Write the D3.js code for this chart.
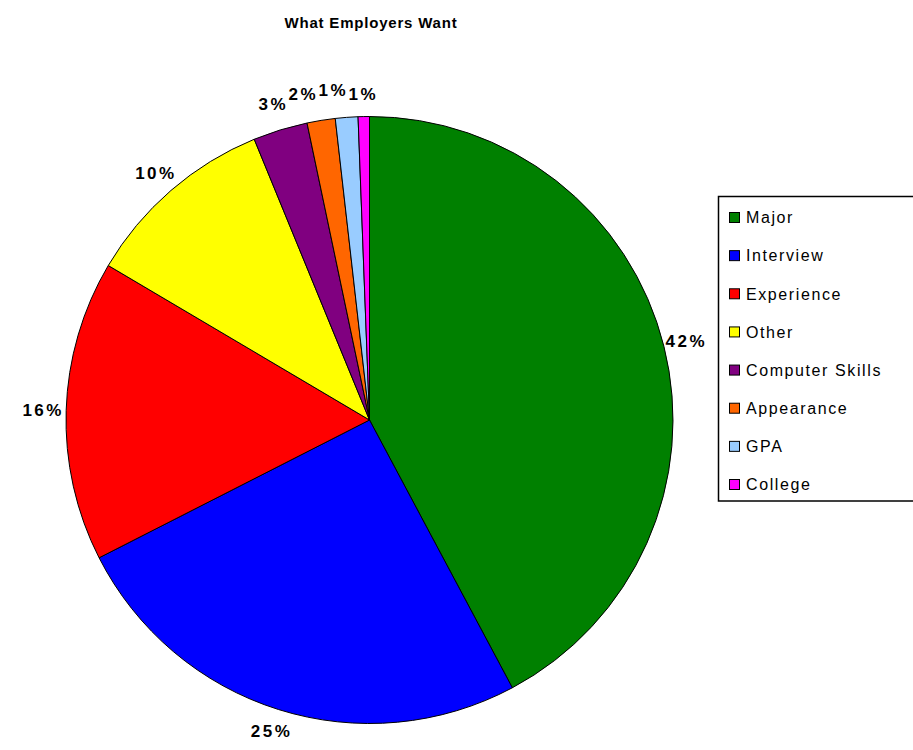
<!DOCTYPE html>
<html>
<head>
<meta charset="utf-8">
<script src="https://cdn.jsdelivr.net/npm/d3@7"></script>
<style>
  body { margin: 0; background: #fff; }
  svg { display: block; font-family: Arial, "Liberation Sans", sans-serif; }
</style>
</head>
<body>
<div id="chart"></div>
<script>
var categories = ['Major', 'Interview', 'Experience', 'Other', 'Computer Skills', 'Appearance', 'GPA', 'College'];
var shares = [42.2, 25.3, 16.0, 10.3, 2.9, 1.5, 1.2, 0.6];
var colours = ['#008000', '#0000ff', '#ff0000', '#ffff00', '#800080', '#ff6600', '#99ccff', '#ff00ff'];

var W = 913, H = 750;
var cx = 369.5, cy = 420, r = 303.5;

var svg = d3.select('#chart').append('svg')
    .attr('width', W).attr('height', H);

svg.append('text')
    .attr('x', 371).attr('y', 28)
    .attr('text-anchor', 'middle')
    .attr('font-weight', 'bold')
    .attr('font-size', 15)
    .attr('letter-spacing', 0.8)
    .text('What Employers Want');

var data = categories.map(function (c, i) {
    return { name: c, value: shares[i], clr: colours[i] };
});

var pie = d3.pie().sort(null).value(function (d) { return d.value; });
var arcs = pie(data);
var arc = d3.arc().innerRadius(0).outerRadius(r);

var g = svg.append('g').attr('transform', 'translate(' + cx + ',' + cy + ')');

g.selectAll('path.slice')
    .data(arcs)
    .enter().append('path')
    .attr('class', 'slice')
    .attr('d', arc)
    .style('fill', function (d) { return d.data.clr; })
    .style('stroke', '#000')
    .style('stroke-width', 1);

// labels outside the rim, pushed apart when they collide
var lblR = r + 23;
var lbls = arcs.map(function (d) {
    var a = (d.startAngle + d.endAngle) / 2;
    return {
        text: Math.round(d.data.value) + '%',
        x: Math.sin(a) * lblR,
        y: -Math.cos(a) * lblR,
        top: a > Math.PI * 1.75
    };
});
var topLbls = lbls.filter(function (l) { return l.top; })
    .sort(function (a, b) { return b.x - a.x; });
for (var i = 1; i < topLbls.length; i++) {
    var minGap = 30;
    if (topLbls[i - 1].x - topLbls[i].x < minGap) topLbls[i].x = topLbls[i - 1].x - minGap;
}
topLbls.forEach(function (l, i) { l.y -= (topLbls.length - 1 - i) > 0 && i > 0 ? 4 : 0; });

g.selectAll('text.lbl')
    .data(lbls)
    .enter().append('text')
    .attr('class', 'lbl')
    .attr('x', function (d) { return d.x; })
    .attr('y', function (d) { return d.y; })
    .attr('dy', '0.35em')
    .attr('text-anchor', 'middle')
    .attr('font-weight', 'bold')
    .attr('font-size', 17)
    .attr('letter-spacing', 2.5)
    .text(function (d) { return d.text; });

// legend
var lx = 718.5, ly = 196.5;
svg.append('rect')
    .attr('x', lx).attr('y', ly)
    .attr('width', 220).attr('height', 304.5)
    .style('fill', '#fff')
    .style('stroke', '#000')
    .style('stroke-width', 1.5);

var rowY = d3.scalePoint().domain(categories).range([217.5, 484.5]);

var item = svg.selectAll('g.item')
    .data(data)
    .enter().append('g')
    .attr('class', 'item')
    .attr('transform', function (d) { return 'translate(0,' + rowY(d.name) + ')'; });

item.append('rect')
    .attr('x', 729.5).attr('y', -5)
    .attr('width', 10).attr('height', 10)
    .style('fill', function (d) { return d.clr; })
    .style('stroke', '#000');

item.append('text')
    .attr('x', 746).attr('dy', '0.36em')
    .attr('font-size', 16)
    .attr('letter-spacing', 1.6)
    .text(function (d) { return d.name; });
</script>
</body>
</html>
